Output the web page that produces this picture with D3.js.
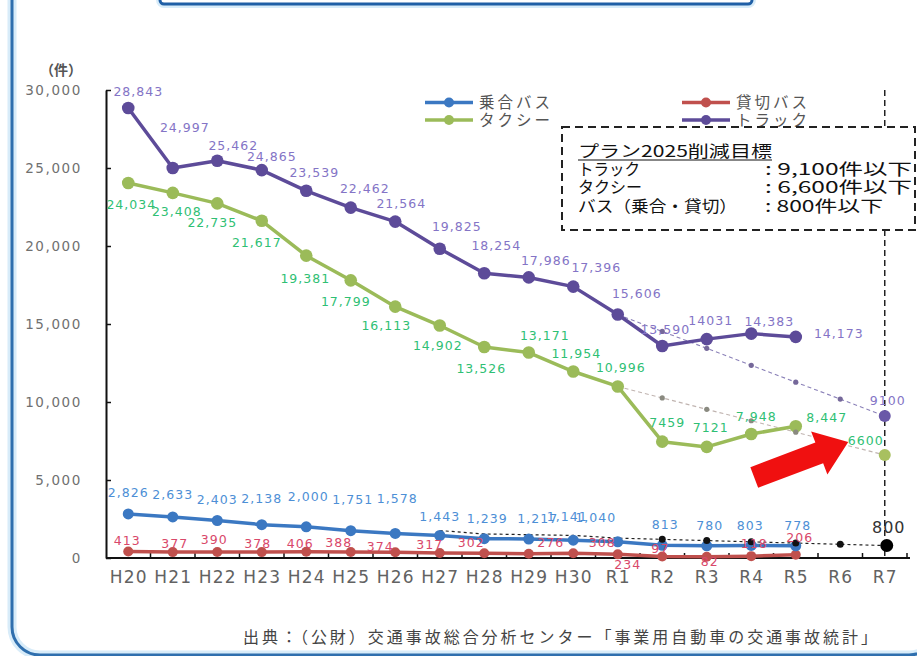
<!DOCTYPE html>
<html><head><meta charset="utf-8">
<script src="https://cdn.jsdelivr.net/npm/d3@7/dist/d3.min.js"></script>
<style>
html,body{margin:0;padding:0;background:#fff;}
svg{display:block;}
</style></head>
<body>
<svg id="c" width="917" height="656"></svg>
<script>
// ---- data ----
const categories = ["H20","H21","H22","H23","H24","H25","H26","H27","H28","H29","H30","R1","R2","R3","R4","R5","R6","R7"];
const seriesNames = ["乗合バス","貸切バス","タクシー","トラック"];
const busRoute   = [2826,2633,2403,2138,2000,1751,1578,1443,1239,1217,1141,1040,813,780,803,778];
const busCharter = [413,377,390,378,406,388,374,317,302,276,308,234,97,82,118,206];
const taxi       = [24034,23408,22735,21617,19381,17799,16113,14902,13526,13171,11954,10996,7459,7121,7948,8447];
const truck      = [28843,24997,25462,24865,23539,22462,21564,19825,18254,17986,17396,15606,13590,14031,14383,14173];
const targetCat = "R7";
const truckTarget = 9100, taxiTarget = 6600, busTarget = 800;
const trendCats  = ["R1","R2","R3","R4","R5","R6","R7"];
const truckTrend = [15606,14522,13438,12354,11270,10185,9100];
const taxiTrend  = [10996,10263,9530,8797,8065,7333,6600];
const busTrendCats = ["H27","H28","H29","H30","R1","R2","R3","R4","R5","R6","R7"];
const busTrend   = [1760,1541,1493,1449,1274,1195,1116,1037,958,879,800];
const yTicks = [0,5000,10000,15000,20000,25000,30000];
const noCommaTruck = [13];      // "14031"
const noCommaTaxi  = [12,13];   // "7459","7121"
const planTitle = "プラン2025削減目標";
const planRows = [["トラック",": 9,100件以下"],["タクシー",": 6,600件以下"],["バス（乗合・貸切）",": 800件以下"]];
const unitLabel = "（件）";
const sourceText = "出典：（公財）交通事故総合分析センター「事業用自動車の交通事故統計」";

// ---- label layout (pixel offsets from each point) ----
const truckLabelOff   = [[10,-12],[12,-36],[16,-11],[10,-9],[8,-14],[14,-15],[6,-14],[17,-18],[12,-23],[17,-12],[23,-15],[19,-17],[3,-12],[4,-14],[18,-8],[43,1]];
const taxiLabelOff    = [[3,26],[4,23],[-5,24],[-5,26],[-1,27],[-5,26],[-9,23],[-2,24],[-3,26],[16,-13],[3,-14],[3,-14],[5,-15],[4,-15],[5,-13],[31,-4]];
const busLabelOff     = [[0,-17],[0,-18],[0,-17],[0,-22],[2,-26],[2,-27],[2,-30],[0,-14],[3,-16],[9,-16],[-6,-19],[-22,-20],[3,-16],[3,-16],[-1,-15],[2,-16]];
const charterLabelOff = [[-1,-7],[2,-4],[-3,-8],[-4,-4],[-6,-4],[-12,-5],[-15,-1],[-10,-4],[-13,-6],[22,-7],[29,-6],[10,15],[-2,-3],[3,9],[3,-8],[4,-13]];

const colors = {
  truck:{line:"#5d4b99", label:"#8474c6"},
  taxi:{line:"#9bbb59", label:"#2fbf74"},
  bus:{line:"#3b78c2", label:"#4d8fd6"},
  charter:{line:"#c0504d", label:"#d9486a"}
};

const svg = d3.select("#c");
const plot = {left:106, right:907, top:90, bottom:558};

// ---- frame ----
svg.append("rect").attr("x",12).attr("y",-40).attr("width",925).attr("height",695).attr("rx",28)
  .attr("fill","none").attr("stroke","#d8ecf9").attr("stroke-width",9);
svg.append("rect").attr("x",12).attr("y",-40).attr("width",925).attr("height",695).attr("rx",28)
  .attr("fill","none").attr("stroke","#2f6fae").attr("stroke-width",3);
svg.append("rect").attr("x",160).attr("y",-40).attr("width",592).attr("height",44).attr("rx",4)
  .attr("fill","#fff").attr("stroke","#d8ecf9").attr("stroke-width",8);
svg.append("rect").attr("x",160).attr("y",-40).attr("width",592).attr("height",44).attr("rx",4)
  .attr("fill","#fff").attr("stroke","#1f5fa6").attr("stroke-width",3);

// ---- scales ----
const x = d3.scalePoint().domain(categories).range([plot.left, plot.right]).padding(0.5);
const xb = d3.scaleBand().domain(categories).range([plot.left, plot.right]);
const y = d3.scaleLinear().domain([0,30000]).range([plot.bottom, plot.top]);

const g = svg.append("g");

// y axis
const yAxis = d3.axisLeft(y).tickValues(yTicks).tickSizeInner(-5).tickSizeOuter(0).tickPadding(24)
  .tickFormat(d3.format(","));
const ya = g.append("g").attr("transform",`translate(${plot.left},0)`).call(yAxis);
ya.select(".domain").attr("stroke","#111").attr("stroke-width",2);
ya.selectAll(".tick line").attr("stroke","#111").attr("stroke-width",1.5);
ya.selectAll(".tick text").attr("font-family","DejaVu Sans").attr("font-size",13.5)
  .attr("letter-spacing",1.6).attr("fill","#707070");

svg.append("text").attr("x",61).attr("y",75).attr("text-anchor","middle")
  .attr("font-family","Noto Sans CJK JP").attr("font-size",14).attr("font-weight","bold")
  .attr("fill","#555").text(unitLabel);

// x axis
const xAxis = d3.axisBottom(x).tickSize(0).tickPadding(15);
const xa = g.append("g").attr("transform",`translate(0,${plot.bottom})`).call(xAxis);
xa.select(".domain").remove();
xa.selectAll(".tick text").attr("font-family","DejaVu Sans").attr("font-size",17)
  .attr("letter-spacing",1.2).attr("fill","#626262").attr("dy","0.6em");
g.append("line").attr("x1",plot.left).attr("x2",plot.right+3).attr("y1",plot.bottom).attr("y2",plot.bottom)
  .attr("stroke","#111").attr("stroke-width",2);
g.selectAll(".xtick").data(categories.slice(1).concat(["__end"])).join("line")
  .attr("class","xtick")
  .attr("x1",d=> d==="__end" ? plot.right : xb(d)).attr("x2",d=> d==="__end" ? plot.right : xb(d))
  .attr("y1",plot.bottom).attr("y2",plot.bottom-5).attr("stroke","#111").attr("stroke-width",1.5);

// vertical dashed line at target year
g.append("line").attr("x1",x(targetCat)).attr("x2",x(targetCat)).attr("y1",plot.top).attr("y2",plot.bottom)
  .attr("stroke","#222").attr("stroke-width",1.5).attr("stroke-dasharray","6,4");

// ---- trend lines ----
const line = d3.line().x(d=>x(d.c)).y(d=>y(d.v));
function trend(cats, vals, stroke, dash, width){
  const data = cats.map((c,i)=>({c, v:vals[i]}));
  g.append("path").datum(data).attr("d",line).attr("fill","none")
    .attr("stroke",stroke).attr("stroke-width",width).attr("stroke-dasharray",dash);
  return data;
}
const tTruck = trend(trendCats, truckTrend, "#8a80b8", "4,3", 1.1);
const tTaxi  = trend(trendCats, taxiTrend, "#c0b4b0", "4,3", 1.1);
const tBus   = trend(busTrendCats, busTrend, "#222", "3,3", 1.2);

// ---- main series ----
function series(vals, col, r, w){
  const data = vals.map((v,i)=>({c:categories[i], v}));
  g.append("path").datum(data).attr("d",line).attr("fill","none")
    .attr("stroke",col).attr("stroke-width",w).attr("stroke-linejoin","round");
  g.append("g").selectAll("circle").data(data).join("circle")
    .attr("cx",d=>x(d.c)).attr("cy",d=>y(d.v)).attr("r",r).attr("fill",col);
  return data;
}
const dCharter = series(busCharter, colors.charter.line, 5, 3.5);
const dBus     = series(busRoute, colors.bus.line, 5.5, 3.5);
const dTaxi    = series(taxi, colors.taxi.line, 6.3, 3.5);
const dTruck   = series(truck, colors.truck.line, 6.3, 3.5);

// trend dots
g.append("g").selectAll("circle").data(tTruck.slice(1,6)).join("circle")
  .attr("cx",d=>x(d.c)).attr("cy",d=>y(d.v)).attr("r",2.6).attr("fill","#75689a");
g.append("g").selectAll("circle").data(tTaxi.slice(1,6)).join("circle")
  .attr("cx",d=>x(d.c)).attr("cy",d=>y(d.v)).attr("r",2.6).attr("fill","#8a8a80");
g.append("g").selectAll("circle").data(tBus.filter(d=>["R2","R3","R4","R5","R6"].includes(d.c))).join("circle")
  .attr("cx",d=>x(d.c)).attr("cy",d=>y(d.v)).attr("r",3.5).attr("fill","#111");

// target markers
g.append("circle").attr("cx",x(targetCat)).attr("cy",y(truckTarget)).attr("r",6).attr("fill","#6a58a8");
g.append("circle").attr("cx",x(targetCat)).attr("cy",y(taxiTarget)).attr("r",6).attr("fill","#a8c060");
g.append("circle").attr("cx",x(targetCat)+2).attr("cy",y(busTarget)).attr("r",6.5).attr("fill","#000");

// ---- labels ----
const fmt = d3.format(",");
function labels(data, off, col, noComma){
  g.append("g").selectAll("text").data(data).join("text")
    .attr("x",(d,i)=>x(d.c)+off[i][0]).attr("y",(d,i)=>y(d.v)+off[i][1])
    .attr("text-anchor","middle").attr("font-family","DejaVu Sans").attr("font-size",12.5)
    .attr("letter-spacing",1.0).attr("fill",col)
    .text((d,i)=> (noComma && noComma.includes(i)) ? String(d.v) : fmt(d.v));
}
labels(dTruck, truckLabelOff, colors.truck.label, noCommaTruck);
labels(dTaxi, taxiLabelOff, colors.taxi.label, noCommaTaxi);
labels(dBus, busLabelOff, colors.bus.label, []);
labels(dCharter, charterLabelOff, colors.charter.label, []);

function tlabel(v, dx, dy, col, size){
  g.append("text").attr("x",x(targetCat)+dx).attr("y",y(v)+dy).attr("text-anchor","middle")
    .attr("font-family","DejaVu Sans").attr("font-size",size).attr("letter-spacing",1.0)
    .attr("fill",col).text(String(v));
}
tlabel(truckTarget, 3, -11, colors.truck.label, 12.5);
tlabel(taxiTarget, -19, -10, colors.taxi.label, 12.5);
tlabel(busTarget, 4, -13, "#333", 16);

// ---- arrow annotation ----
const aFrom = [x("R4")+3, y(5160)], aTo = [x("R6")+8, y(7440)];
(function(){
  const dx = aTo[0]-aFrom[0], dy = aTo[1]-aFrom[1];
  const L = Math.hypot(dx,dy), ang = Math.atan2(dy,dx)*180/Math.PI;
  const sw = 11, hw = 23, hl = 31;
  const pts = [[0,-sw],[L-hl,-sw],[L-hl,-hw],[L,0],[L-hl,hw],[L-hl,sw],[0,sw]];
  svg.append("polygon").attr("points",pts.map(p=>p.join(",")).join(" "))
    .attr("transform",`translate(${aFrom[0]},${aFrom[1]}) rotate(${ang})`)
    .attr("fill","#f01010");
})();

// ---- legend ----
const legendItems = [
  {name:seriesNames[0], col:colors.bus.line, lx:425, ly:102.5},
  {name:seriesNames[1], col:colors.charter.line, lx:682, ly:102.5},
  {name:seriesNames[2], col:colors.taxi.line, lx:425, ly:120},
  {name:seriesNames[3], col:colors.truck.line, lx:682, ly:120}
];
const lg = svg.append("g");
legendItems.forEach(it=>{
  lg.append("line").attr("x1",it.lx).attr("x2",it.lx+48).attr("y1",it.ly).attr("y2",it.ly)
    .attr("stroke",it.col).attr("stroke-width",3.5);
  lg.append("circle").attr("cx",it.lx+24).attr("cy",it.ly).attr("r",5).attr("fill",it.col);
  lg.append("text").attr("x",it.lx+54).attr("y",it.ly+5.5).attr("font-family","Noto Sans CJK JP")
    .attr("font-size",15.5).attr("letter-spacing",3).attr("fill","#555").text(it.name);
});

// ---- plan box ----
const bx = 562, by = 127, bw = 353, bh = 103;
svg.append("rect").attr("x",bx).attr("y",by).attr("width",bw).attr("height",bh)
  .attr("fill","#fff").attr("stroke","#222").attr("stroke-width",2).attr("stroke-dasharray","8,5");
svg.append("text").attr("x",578).attr("y",157).attr("font-family","Noto Sans CJK JP").attr("font-size",16)
  .attr("fill","#111").attr("textLength",194).attr("lengthAdjust","spacingAndGlyphs").text(planTitle);
svg.append("line").attr("x1",578).attr("x2",772).attr("y1",160).attr("y2",160).attr("stroke","#111").attr("stroke-width",1.2);
const rowY = [175,193,212];
const leftLen = [62,64,159], rightLen = [147,147,118];
planRows.forEach((r,i)=>{
  svg.append("text").attr("x",578).attr("y",rowY[i]).attr("font-family","Noto Sans CJK JP").attr("font-size",16)
    .attr("fill","#111").attr("textLength",leftLen[i]).attr("lengthAdjust","spacingAndGlyphs").text(r[0]);
  svg.append("text").attr("x",765).attr("y",rowY[i]).attr("font-family","Noto Sans CJK JP").attr("font-size",16)
    .attr("fill","#111").attr("textLength",rightLen[i]).attr("lengthAdjust","spacingAndGlyphs").text(r[1]);
});

// ---- source ----
svg.append("text").attr("x",243).attr("y",643).attr("font-family","Noto Sans CJK JP").attr("font-size",16)
  .attr("fill","#444").attr("textLength",634).attr("lengthAdjust","spacing").text(sourceText);
</script>
</body></html>
